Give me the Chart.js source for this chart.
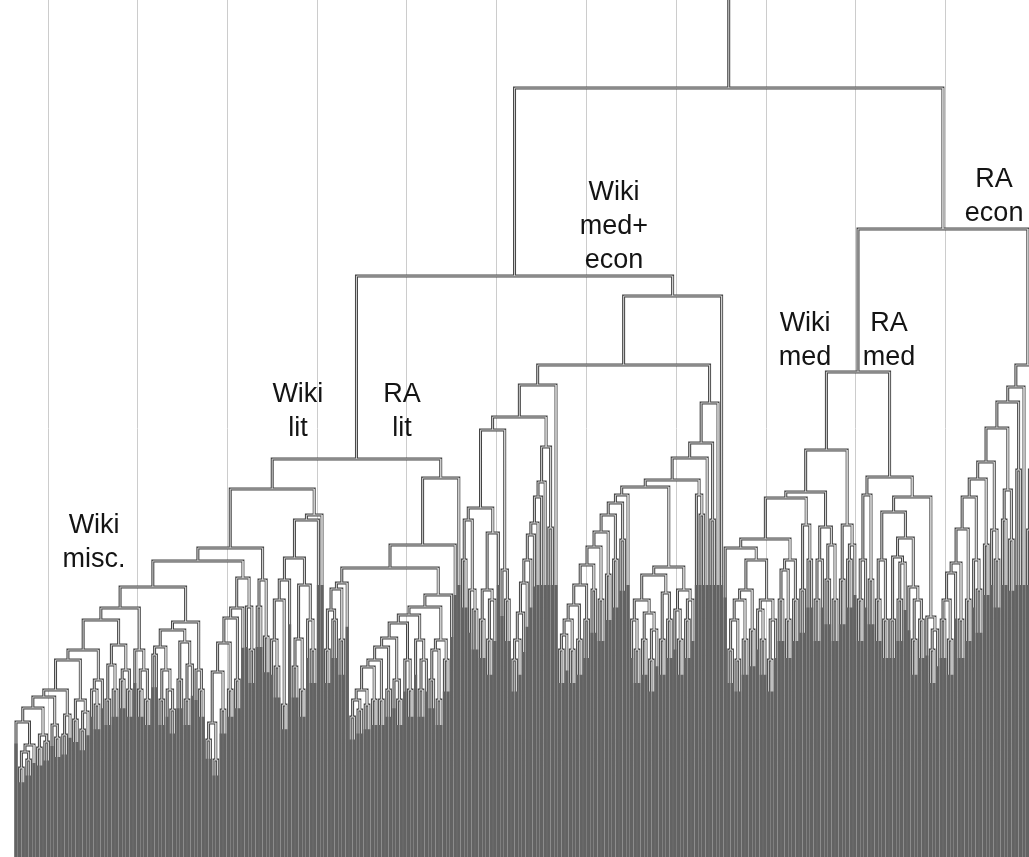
<!DOCTYPE html>
<html><head><meta charset="utf-8">
<script src="https://cdn.jsdelivr.net/npm/chart.js@4.4.1/dist/chart.umd.min.js"></script>
<style>html,body{margin:0;padding:0;background:#fff;overflow:hidden}</style>
</head><body>
<canvas id="c" width="1029" height="857"></canvas>
<script>
// Merge height between each pair of neighbouring leaves (left to right).
// The last value of each group is the height at which it joins the next group.
const wikiMiscLit = [
  135, 89, 105, 97, 112, 149, 109, 122, 115, 160, 132, 119, 167, 122, 142, 197, 137, 157, 127, 145,
  207, 167, 152, 177, 237, 157, 192, 167, 212, 177, 187, 167, 249, 207, 167, 187, 157, 270,
  202, 210, 157, 187, 167, 147, 227, 177, 215, 157, 192, 235, 187, 167, 296,
  117, 134, 97, 185, 147, 214, 167, 239, 177, 249, 279, 250, 207, 309, 250, 277, 220, 368,
  217, 190, 257, 152, 277, 299, 190, 218, 167, 272, 237, 207, 337, 342, 398
];
const raLit = [
  207, 247, 237, 268, 217, 274, 289, 140, 157, 147, 167, 152, 190, 157, 197, 157, 210, 167, 219, 177,
  157, 234, 197, 167, 242, 217, 167, 197, 250, 177, 207, 157, 217, 197, 262, 312, 379, 581
];
const wikiMedEcon = [
  297, 337, 267, 247, 349, 237, 267, 217, 257, 324, 427, 287, 257, 440, 197, 217, 244, 274, 297, 322,
  334, 360, 375, 410, 329, 472, 492,
  207, 222, 237, 207, 252, 217, 272, 237, 292, 267, 310, 257, 325, 282, 342, 297, 354, 317, 362, 370,
  237, 207, 257, 217, 244, 197, 227, 282, 217, 264, 237, 290, 247, 217, 267, 237, 257,
  377, 362, 342, 399, 414, 337, 454, 561, 769
];
const wikiMed = [
  309, 207, 237, 197, 257, 217, 267, 227, 297, 247, 217, 257, 197, 237, 318, 257, 287, 237, 297, 257,
  359, 267, 332, 297, 365, 257, 297, 330, 277, 312, 257, 407, 277, 332, 297, 312, 485
];
const raMed = [
  257, 297, 362, 277, 380, 257, 297, 237, 345, 237, 300, 257, 294, 319, 270, 217, 257, 237, 360, 240,
  207, 227, 628
];
const raEcon = [
  237, 257, 217, 284, 294, 237, 328, 257, 360, 297, 267, 378, 312, 395, 327, 297, 429, 337, 367, 317,
  455, 387, 470, 492, 327, 387, 357, 407, 377, 397
];
// vertical grid line positions (leaf-index units)
const gridTicks = [8.9, 33.8, 58.8, 83.7, 108.6, 133.6, 158.5, 183.4, 208.4, 233.3, 258.2];
// cluster captions
const captionText = [
  ['Wiki', 'misc.'], ['Wiki', 'lit'], ['RA', 'lit'], ['Wiki', 'med+', 'econ'],
  ['Wiki', 'med'], ['RA', 'med'], ['RA', 'econ']
];
const captionAnchor = [[21.7, 324], [78.3, 455], [107.2, 455], [166.1, 657], [219.2, 526], [242.5, 526], [271.7, 670]];

const mergeHeights = [].concat(wikiMiscLit, raLit, wikiMedEcon, wikiMed, raMed, raEcon);
const nLeaves = mergeHeights.length + 1;
const Y_TOP = 857;
const X_MIN = -16 / 3.6, X_MAX = X_MIN + 1029 / 3.6;

const links = [], bars = [];
const gap = () => ({ x: NaN, y: NaN });
function build(lo, hi) {
  if (lo === hi) return { x: lo, h: 0, leaf: true };
  let k = lo;
  for (let i = lo + 1; i < hi; i++) if (mergeHeights[i] > mergeHeights[k]) k = i;
  const h = mergeHeights[k];
  const L = build(lo, k), R = build(k + 1, hi);
  links.push({ x: L.x, y: L.h }, { x: L.x, y: h }, { x: R.x, y: h }, { x: R.x, y: R.h }, gap());
  [L, R].forEach(c => {
    if (c.leaf) bars.push({ x: c.x, y: 0 }, { x: c.x, y: Math.min(h * 0.84, 272) }, gap());
  });
  return { x: (L.x + R.x) / 2, h, leaf: false };
}
const root = build(0, nLeaves - 1);
links.push({ x: root.x, y: root.h }, { x: root.x, y: Y_TOP }, gap());

const captionPlugin = {
  id: 'captions',
  afterDatasetsDraw(chart) {
    const { ctx, scales } = chart;
    ctx.save();
    ctx.font = '27px "Liberation Sans", Arial, sans-serif';
    ctx.fillStyle = '#141414';
    ctx.textAlign = 'center';
    ctx.textBaseline = 'alphabetic';
    captionText.forEach((lines, i) => {
      const px = scales.x.getPixelForValue(captionAnchor[i][0]);
      const py = scales.y.getPixelForValue(captionAnchor[i][1]);
      lines.forEach((t, j) => ctx.fillText(t, px, py + j * 34));
    });
    ctx.restore();
  }
};

new Chart(document.getElementById('c'), {
  type: 'scatter',
  data: {
    datasets: [
      { data: bars, showLine: true, borderColor: '#636363', borderWidth: 3.1, pointRadius: 0, order: 0, borderCapStyle: 'butt' },
      { data: links.slice(), showLine: true, borderColor: '#d0d0d0', borderWidth: 1, pointRadius: 0, order: 1 },
      { data: links.slice(), showLine: true, borderColor: '#444444', borderWidth: 3, pointRadius: 0, order: 2 }
    ]
  },
  options: {
    responsive: false, animation: false, devicePixelRatio: 1, events: [],
    layout: { padding: 0 },
    plugins: { legend: { display: false }, tooltip: { enabled: false } },
    scales: {
      x: {
        type: 'linear', min: X_MIN, max: X_MAX,
        afterBuildTicks: a => { a.ticks = gridTicks.map(v => ({ value: v })); },
        grid: { color: '#cccccc', lineWidth: 1, drawTicks: false },
        ticks: { display: false }, border: { display: false }
      },
      y: { type: 'linear', min: 0, max: Y_TOP, display: false }
    }
  },
  plugins: [captionPlugin]
});
</script>
</body></html>
